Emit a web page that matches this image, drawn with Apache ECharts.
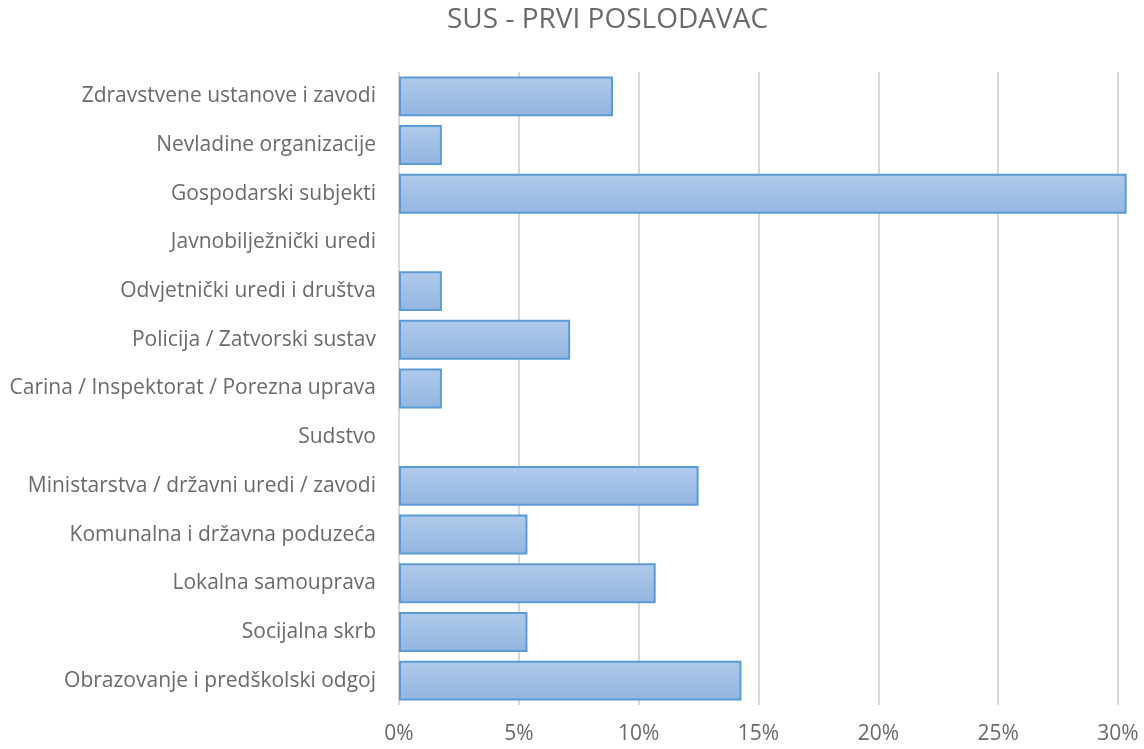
<!DOCTYPE html>
<html lang="hr">

<head>
    <meta charset="UTF-8">
    <title>SUS - PRVI POSLODAVAC</title>
</head>

<body style="margin:0">
    <div id="main" style="width: 1144px;height:749px;"></div>
</body>
<script src="https://cdn.jsdelivr.net/npm/echarts@6/dist/echarts.min.js"></script>

<script>
    // kategorije odozgo prema dolje
    var kategorije = [
        'Zdravstvene ustanove i zavodi',
        'Nevladine organizacije',
        'Gospodarski subjekti',
        'Javnobilježnički uredi',
        'Odvjetnički uredi i društva',
        'Policija / Zatvorski sustav',
        'Carina / Inspektorat / Porezna uprava',
        'Sudstvo',
        'Ministarstva / državni uredi / zavodi',
        'Komunalna i državna poduzeća',
        'Lokalna samouprava',
        'Socijalna skrb',
        'Obrazovanje i predškolski odgoj'
    ];
    // udjeli (%)
    var udjeli = [8.93, 1.79, 30.36, 0, 1.79, 7.14, 1.79, 0, 12.5, 5.36, 10.71, 5.36, 14.29];

    var font = 'Open Sans';
    var siva = '#6a6a6a';

    // nule se ne crtaju (bez obruba)
    var podaci = udjeli.map(function (v) {
        return v === 0 ? { value: v, itemStyle: { borderWidth: 0 } } : v;
    });

    var myChart = echarts.init(document.getElementById('main'));
    myChart.setOption({
        animation: false,
        title: {
            text: 'SUS - PRVI POSLODAVAC',
            left: 442,
            top: 1,
            textStyle: {
                fontFamily: font,
                fontSize: 28,
                fontWeight: 'normal',
                color: siva
            }
        },
        grid: {
            left: 399,
            right: 26,
            top: 72,
            bottom: 44,
            containLabel: false
        },
        xAxis: {
            type: 'value',
            min: 0,
            max: 30,
            interval: 5,
            axisLine: { show: false },
            axisTick: { show: false },
            splitLine: { lineStyle: { color: '#d9d9d9', width: 2 } },
            axisLabel: {
                formatter: '{value}%',
                color: siva,
                fontFamily: font,
                fontSize: 21,
                margin: 19
            }
        },
        yAxis: {
            type: 'category',
            inverse: true,
            data: kategorije,
            axisLine: { show: false },
            axisTick: { show: false },
            axisLabel: {
                color: siva,
                fontFamily: font,
                fontSize: 21,
                margin: 23
            }
        },
        series: [{
            type: 'bar',
            data: podaci,
            clip: false,
            barCategoryGap: '18%',
            itemStyle: {
                color: new echarts.graphic.LinearGradient(0, 0, 0, 1, [
                    { offset: 0, color: '#b0caeb' },
                    { offset: 1, color: '#93b5e0' }
                ]),
                borderColor: '#5b9bd5',
                borderWidth: 2
            }
        }]
    });
</script>

</html>
